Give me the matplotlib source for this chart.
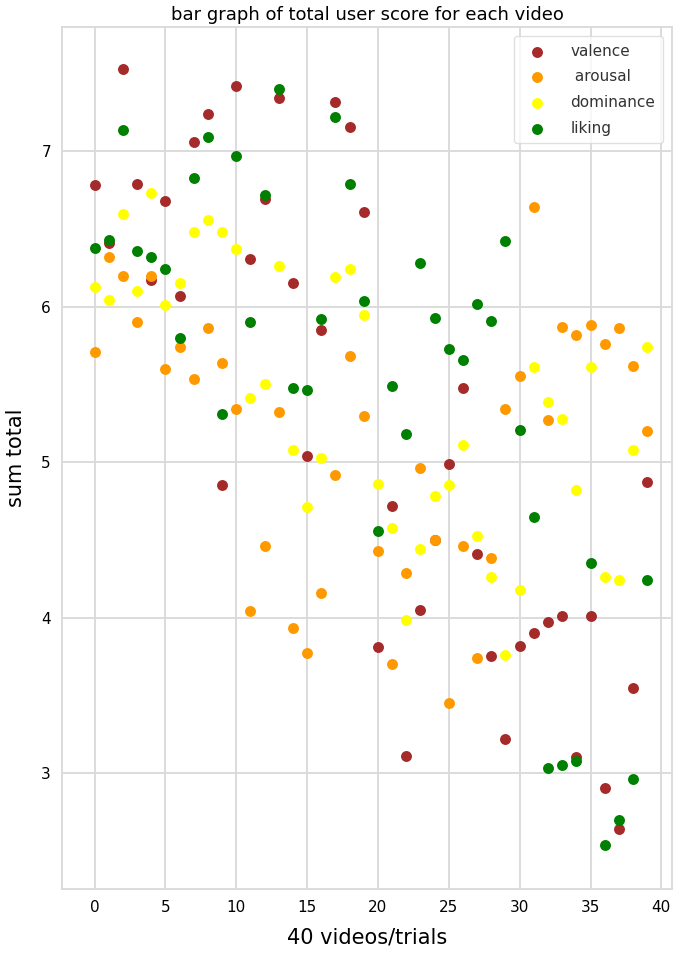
import matplotlib
matplotlib.use("Agg")
import matplotlib.pyplot as plt
import numpy as np

videos = list(range(40))
valence = [6.78, 6.41, 7.53, 6.79, 6.17, 6.68, 6.07, 7.06, 7.24, 4.85,
           7.42, 6.31, 6.69, 7.34, 6.155, 5.04, 5.85, 7.32, 7.155, 6.61,
           3.81, 4.72, 3.11, 4.05, 4.50, 4.99, 5.48, 4.41, 3.75, 3.22,
           3.82, 3.90, 3.97, 4.01, 3.10, 4.01, 2.905, 2.64, 3.55, 4.87]
arousal = [5.71, 6.32, 6.20, 5.90, 6.20, 5.60, 5.74, 5.535, 5.86, 5.64,
           5.34, 4.04, 4.46, 5.32, 3.93, 3.77, 4.16, 4.915, 5.68, 5.30,
           4.43, 3.70, 4.29, 4.965, 4.50, 3.45, 4.46, 3.74, 4.385, 5.34,
           5.555, 6.64, 5.27, 5.87, 5.82, 5.88, 5.76, 5.86, 5.62, 5.20]
dominance = [6.13, 6.045, 6.595, 6.10, 6.73, 6.01, 6.155, 6.48, 6.56, 6.48,
             6.37, 5.41, 5.505, 6.26, 5.08, 4.71, 5.03, 6.19, 6.24, 5.945,
             4.86, 4.575, 3.985, 4.44, 4.78, 4.855, 5.11, 4.525, 4.26, 3.76,
             4.18, 5.61, 5.39, 5.28, 4.82, 5.61, 4.26, 4.24, 5.08, 5.74]
liking = [6.38, 6.43, 7.135, 6.36, 6.32, 6.24, 5.80, 6.83, 7.095, 5.31,
          6.97, 5.90, 6.72, 7.40, 5.475, 5.465, 5.92, 7.22, 6.79, 6.035,
          4.56, 5.49, 5.18, 6.28, 5.93, 5.73, 5.66, 6.02, 5.91, 6.42,
          5.21, 4.65, 3.03, 3.05, 3.08, 4.35, 2.54, 2.70, 2.96, 4.24]

series_labels = ["valence", " arousal", "dominance", "liking"]
series_colors = ["brown", "#ff9900", "yellow", "green"]

fig = plt.figure(figsize=(6.85, 9.56), dpi=100)
ax = fig.add_axes([0.0905, 0.0701, 0.8905, 0.9017])

for vals, lab, col in zip([valence, arousal, dominance, liking], series_labels, series_colors):
    ax.scatter(videos, vals, s=62, color=col, label=lab, linewidths=0, zorder=3)

ax.set_xlim(-2.3, 40.75)
ax.set_ylim(2.254, 7.80)
ax.set_xticks([0, 5, 10, 15, 20, 25, 30, 35, 40])
ax.set_yticks([3, 4, 5, 6, 7])
ax.grid(True, color="#d9d9d9", linewidth=1.3, zorder=0)
ax.set_axisbelow(True)
for sp in ax.spines.values():
    sp.set_color("#d9d9d9")
    sp.set_linewidth(1.3)
ax.tick_params(axis="both", length=0, labelsize=11, pad=8, colors="black")

ax.set_title("bar graph of total user score for each video", fontsize=13, pad=5)
ax.set_xlabel("40 videos/trials", fontsize=15, labelpad=9)
ax.set_ylabel("sum total", fontsize=15, labelpad=11)

leg = ax.legend(loc="upper right", fontsize=11, labelspacing=0.7, handletextpad=1.2,
                borderpad=0.5, frameon=True, framealpha=0.8, edgecolor="#d9d9d9",
                borderaxespad=0.6)
for t in leg.get_texts():
    t.set_color("#333333")

fig.savefig("out.png", dpi=100)
